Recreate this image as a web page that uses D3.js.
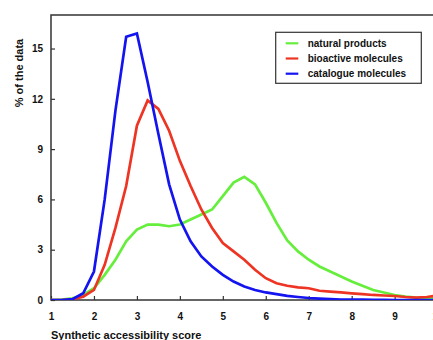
<!DOCTYPE html>
<html lang="en">
<head>
<meta charset="utf-8">
<title>Synthetic accessibility score</title>
<script src="https://cdn.jsdelivr.net/npm/d3@7"></script>
<style>
  body { margin: 0; background: #fff; }
  svg text { font-family: "Liberation Sans", Arial, sans-serif; font-weight: bold; fill: #111; }
</style>
</head>
<body>
<script>
// score values (x), step 0.25
var scores = [1, 1.25, 1.5, 1.75, 2, 2.25, 2.5, 2.75, 3, 3.25, 3.5, 3.75, 4, 4.25, 4.5, 4.75,
              5, 5.25, 5.5, 5.75, 6, 6.25, 6.5, 6.75, 7, 7.25, 7.5, 7.75, 8, 8.25, 8.5, 8.75,
              9, 9.25, 9.5, 9.75, 10];

var naturalProducts = [0, 0.02, 0.1, 0.3, 0.7, 1.5, 2.4, 3.5, 4.2, 4.5, 4.5, 4.4, 4.5, 4.8, 5.1, 5.4,
                       6.2, 7.0, 7.35, 6.9, 5.8, 4.6, 3.55, 2.9, 2.4, 2.0, 1.7, 1.4, 1.1, 0.85, 0.6, 0.45,
                       0.3, 0.2, 0.15, 0.12, 0.1];
var bioactive = [0, 0, 0.05, 0.2, 0.6, 2.1, 4.3, 6.8, 10.4, 11.9, 11.4, 10.1, 8.3, 6.8, 5.4, 4.3,
                 3.4, 2.9, 2.4, 1.8, 1.3, 1.0, 0.85, 0.75, 0.7, 0.55, 0.5, 0.45, 0.4, 0.35, 0.3, 0.27,
                 0.24, 0.18, 0.14, 0.18, 0.26];
var catalogue = [0, 0, 0.05, 0.4, 1.7, 6.0, 11.3, 15.7, 15.9, 13.0, 9.9, 6.9, 4.8, 3.5, 2.6, 2.0,
                 1.5, 1.1, 0.8, 0.6, 0.45, 0.35, 0.25, 0.18, 0.12, 0.08, 0.05, 0.03, 0.02, 0.02, 0.01, 0.01,
                 0, 0, 0, 0, 0];

var seriesNames = ["natural products", "bioactive molecules", "catalogue molecules"];
var seriesColors = ["#66ee3c", "#ee3524", "#1414f0"];
var xTicks = [1, 2, 3, 4, 5, 6, 7, 8, 9, 10];
var yTicks = [0, 3, 6, 9, 12, 15];

var W = 433, H = 340;
var mLeft = 51, mTop = 15, mRight = 437.6, mBottom = 300;

var svg = d3.select("body").append("svg")
    .attr("width", W)
    .attr("height", H);

var x = d3.scaleLinear().domain([1, 10]).range([mLeft, mRight]);
var y = d3.scaleLinear().domain([0, 17]).range([mBottom, mTop]);

// frame
svg.append("rect")
    .attr("x", mLeft).attr("y", mTop)
    .attr("width", mRight - mLeft).attr("height", mBottom - mTop)
    .attr("fill", "none")
    .attr("stroke", "#333")
    .attr("stroke-width", 1.5);

// axes (ticks pointing inward)
var xAxis = svg.append("g")
    .attr("transform", "translate(0," + mBottom + ")")
    .call(d3.axisBottom(x).tickValues(xTicks).tickSizeInner(-4).tickSizeOuter(0).tickPadding(13));
var yAxis = svg.append("g")
    .attr("transform", "translate(" + mLeft + ",0)")
    .call(d3.axisLeft(y).tickValues(yTicks).tickSizeInner(-4).tickSizeOuter(0).tickPadding(8));

[xAxis, yAxis].forEach(function(g) {
  g.select(".domain").remove();
  g.selectAll("line").attr("stroke", "#333").attr("stroke-width", 1.2);
  g.selectAll("text")
      .style("font-family", '"Liberation Sans", Arial, sans-serif')
      .style("font-weight", "bold")
      .style("font-size", "10px")
      .attr("fill", "#111");
});

// lines
var allSeries = [naturalProducts, bioactive, catalogue];
var line = d3.line()
    .x(function(d, i) { return x(scores[i]); })
    .y(function(d) { return y(d); });

svg.append("clipPath").attr("id", "plotclip")
  .append("rect")
    .attr("x", mLeft).attr("y", mTop)
    .attr("width", mRight - mLeft).attr("height", mBottom - mTop);

svg.append("g").attr("clip-path", "url(#plotclip)")
  .selectAll("path.series")
  .data(allSeries)
  .enter()
  .append("path")
    .attr("class", "series")
    .attr("d", line)
    .attr("fill", "none")
    .attr("stroke", function(d, i) { return seriesColors[i]; })
    .attr("stroke-width", 2.7)
    .attr("stroke-linejoin", "miter");

// axis titles
svg.append("text")
    .attr("transform", "translate(23,73) rotate(-90)")
    .attr("text-anchor", "middle")
    .style("font-size", "11px")
    .text("% of the data");

svg.append("text")
    .attr("x", 51)
    .attr("y", 338.5)
    .style("font-size", "11px")
    .text("Synthetic accessibility score");

// legend
var legend = svg.append("g");
legend.append("rect")
    .attr("x", 275.7).attr("y", 32.3)
    .attr("width", 145.6).attr("height", 51)
    .attr("fill", "#fff")
    .attr("stroke", "#333")
    .attr("stroke-width", 1.2);

var rows = legend.selectAll("g.row")
    .data(seriesNames)
    .enter()
    .append("g")
    .attr("class", "row")
    .attr("transform", function(d, i) { return "translate(0," + (43.3 + i * 15.2) + ")"; });

rows.append("line")
    .attr("x1", 285.7).attr("x2", 298.3)
    .attr("stroke", function(d, i) { return seriesColors[i]; })
    .attr("stroke-width", 2.2);

rows.append("text")
    .attr("x", 307.7)
    .attr("dy", "0.35em")
    .style("font-size", "10px")
    .text(function(d) { return d; });
</script>
</body>
</html>
